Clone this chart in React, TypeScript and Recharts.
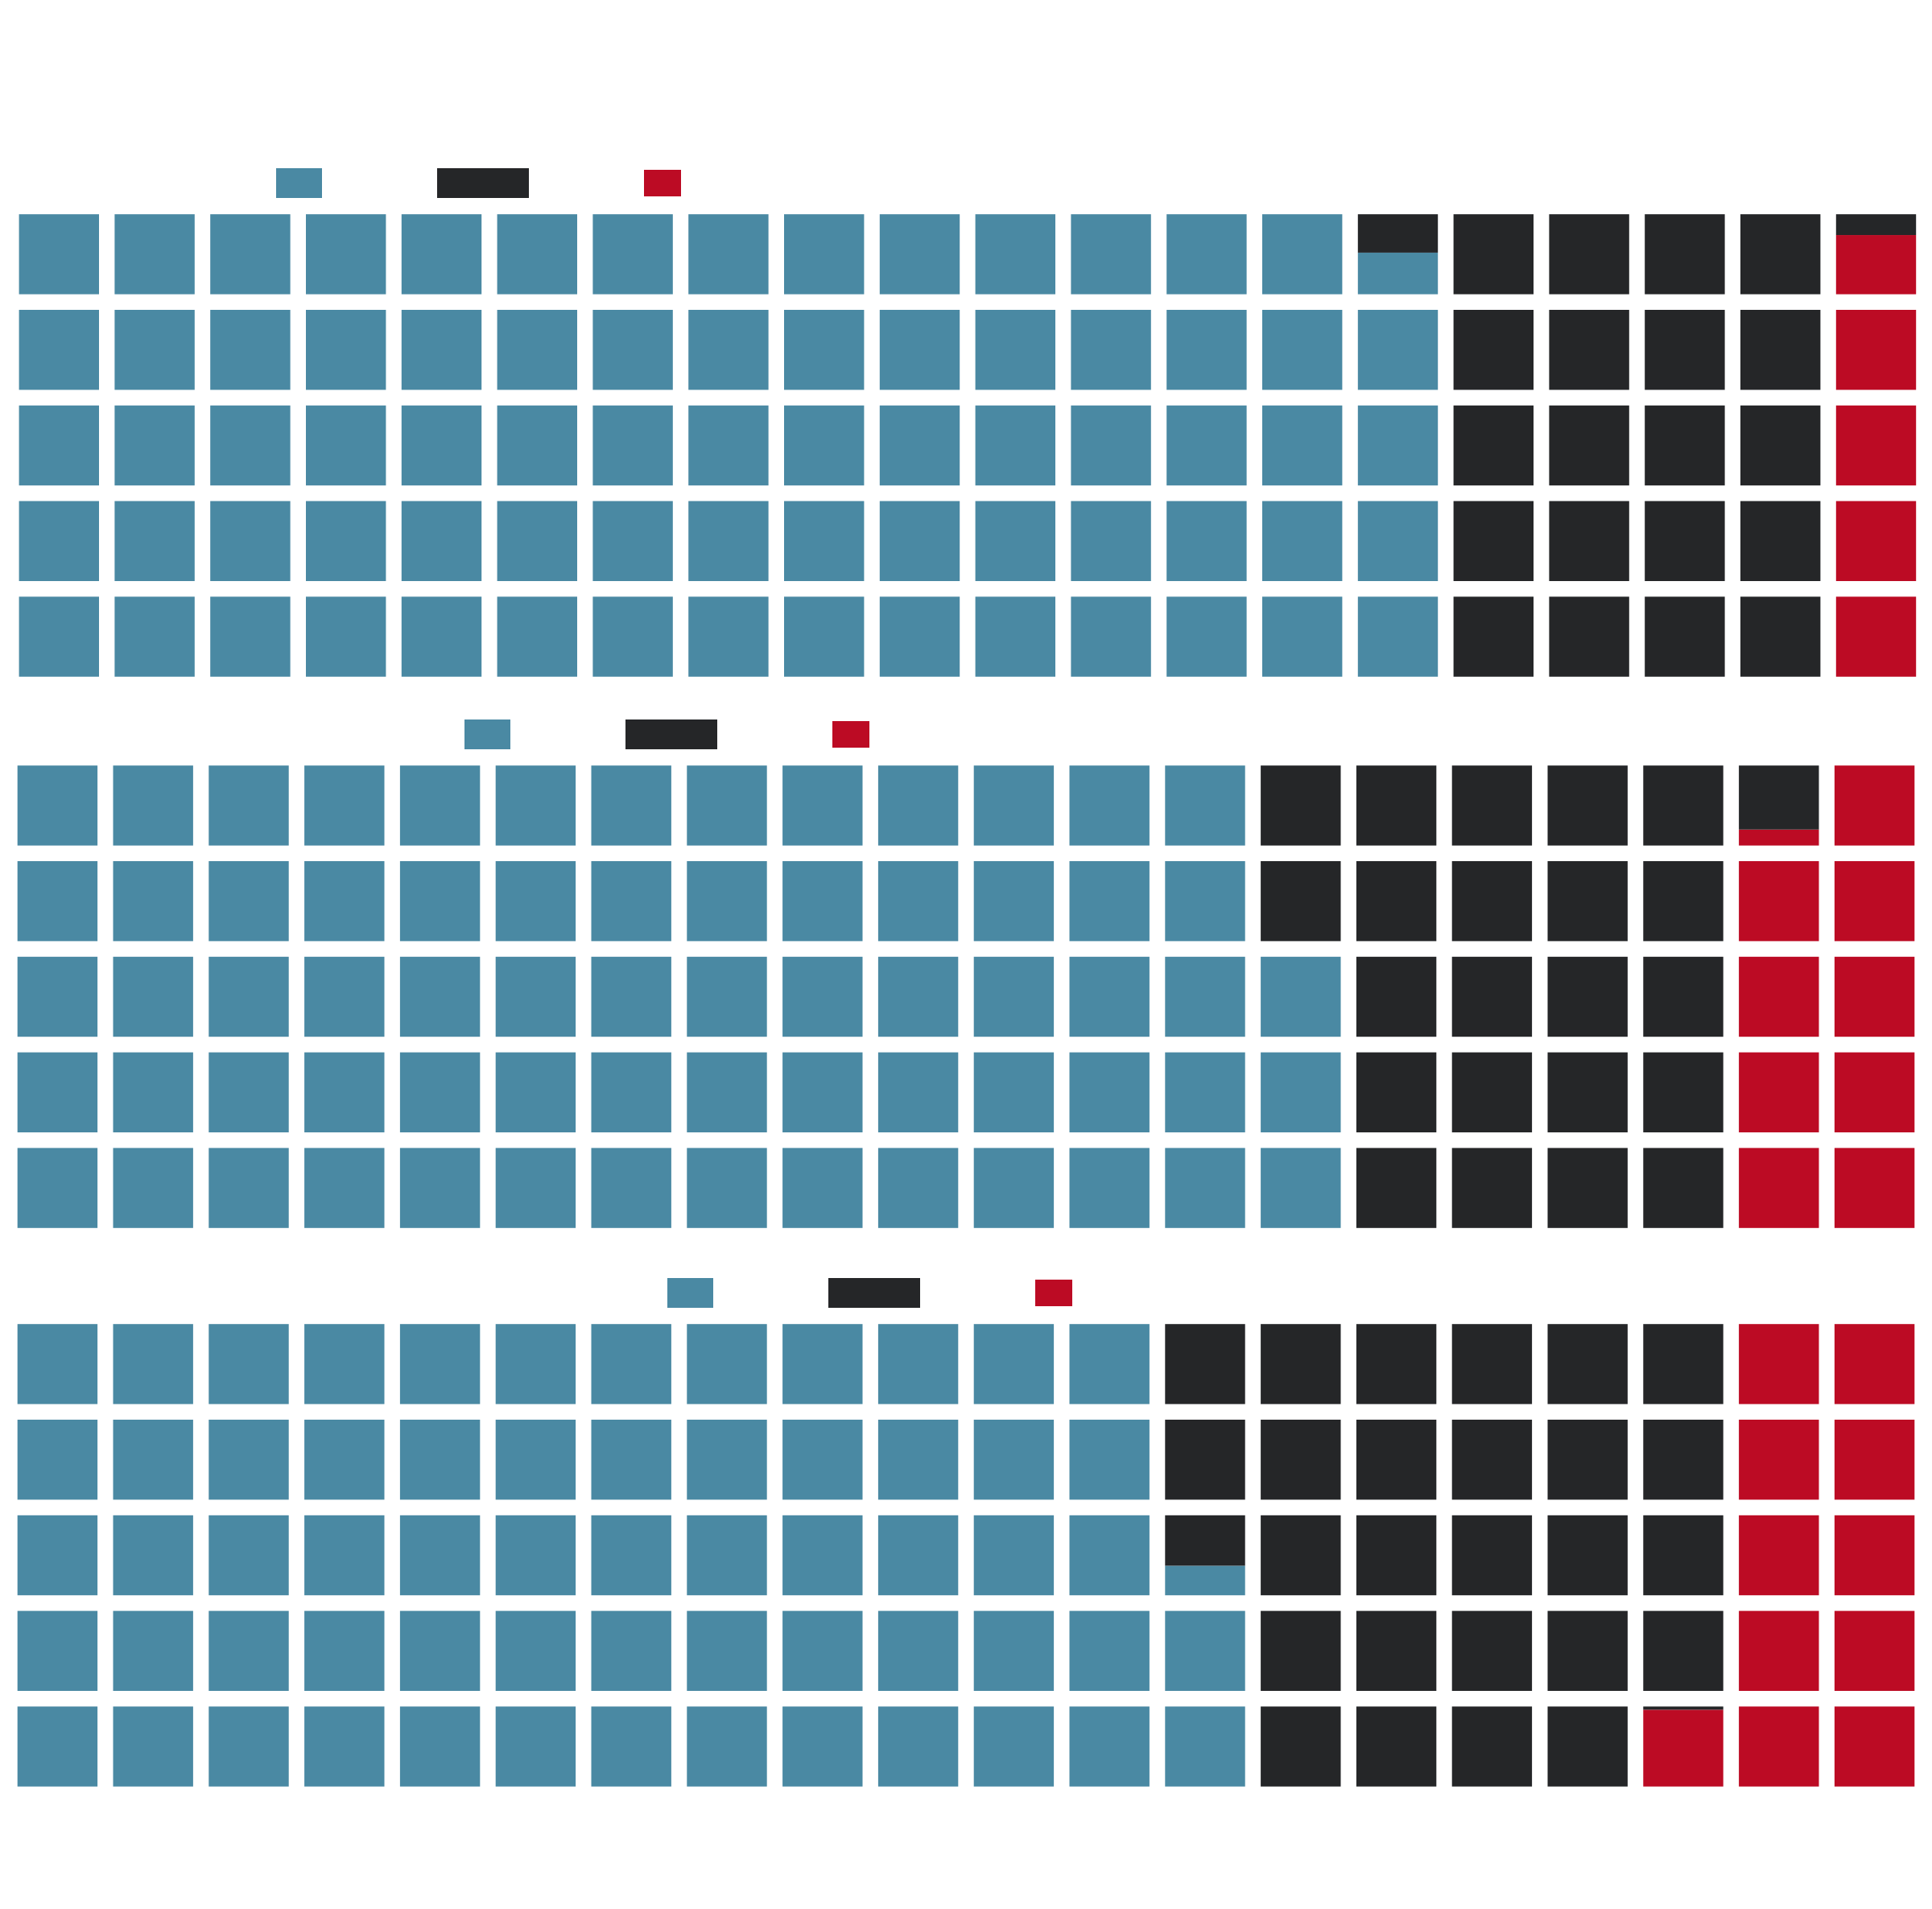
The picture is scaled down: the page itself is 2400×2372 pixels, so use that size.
import { BarChart, Bar, XAxis, YAxis, Legend } from 'recharts';

// share of each group per panel, in percent (one cell = 1%)
const PANELS = ['panel1', 'panel2', 'panel3'];
const BLUE_SHARE = [74.52, 68.0, 62.37];
const BLACK_SHARE = [20.74, 22.8, 26.67];
const RED_SHARE = [4.74, 9.2, 10.96];

const COLUMNS = 20;
const ROWS = 5;

type SeriesKey = 'blue' | 'black' | 'red';

const COLORS: Record<SeriesKey, string> = {
  blue: '#4a89a3',
  black: '#252628',
  red: '#bc0b24',
};

// bottom-to-top order inside a column
const STACK_ORDER: SeriesKey[] = ['blue', 'red', 'black'];
// left-to-right order in the legend
const LEGEND_ORDER: SeriesKey[] = ['blue', 'black', 'red'];

const SWATCH: Record<SeriesKey, { w: number; h: number }> = {
  blue: { w: 57, h: 37 },
  black: { w: 114, h: 37 },
  red: { w: 46, h: 33 },
};

const PITCH = 118.8;
const CELL = 99.4;
const GAP_RATIO = (PITCH - CELL) / PITCH;
const LEGEND_H = 47.5;

const LAYOUT = [
  { top: 208.8, left: 13.6, legendLeft: 342.5 },
  { top: 893.6, left: 11.7, legendLeft: 576.5 },
  { top: 1588.3, left: 11.7, legendLeft: 828.5 },
];

interface ColumnRow {
  col: number;
  blue: number;
  black: number;
  red: number;
}

const clamp = (v: number) => Math.max(0, Math.min(ROWS, v));

// blue fills columns from the left, red takes what is left after blue + black
function buildColumns(blue: number, black: number, red: number): ColumnRow[] {
  const rows: ColumnRow[] = [];
  for (let c = 0; c < COLUMNS; c++) {
    const b = clamp(blue - c * ROWS);
    const k = clamp(blue + black - c * ROWS) - b;
    const r = clamp(blue + black + red - c * ROWS) - b - k;
    rows.push({ col: c, blue: b, black: k, red: r });
  }
  return rows;
}

function makeShape(key: SeriesKey) {
  return (props: any) => {
    const { x, y, width, height, payload } = props;
    const idx = STACK_ORDER.indexOf(key);
    let v0 = 0;
    for (let i = 0; i < idx; i++) v0 += payload[STACK_ORDER[i]];
    const v1 = v0 + payload[key];
    if (!(v1 - v0 > 1e-6) || !(height > 0)) return <g />;
    const unit = height / (v1 - v0);
    const base = y + height + v0 * unit;
    const cellH = unit * (1 - GAP_RATIO);
    const rects = [];
    for (let k = Math.floor(v0); k < Math.ceil(v1); k++) {
      const lo = Math.max(v0, k) - k;
      const hi = Math.min(v1, k + 1) - k;
      if (hi - lo <= 1e-6) continue;
      const cellBottom = base - k * unit - (unit * GAP_RATIO) / 2;
      const top = cellBottom - hi * cellH;
      const bottom = cellBottom - lo * cellH;
      rects.push(
        <rect key={k} x={x} y={top} width={width} height={bottom - top} fill={COLORS[key]} />
      );
    }
    return <g>{rects}</g>;
  };
}

function LegendSwatches() {
  return (
    <div style={{ height: LEGEND_H, display: 'flex', alignItems: 'flex-start' }}>
      <div style={{ display: 'flex', alignItems: 'center', gap: 143, height: 37 }}>
        {LEGEND_ORDER.map((k) => (
          <div
            key={k}
            style={{ width: SWATCH[k].w, height: SWATCH[k].h, background: COLORS[k] }}
          />
        ))}
      </div>
    </div>
  );
}

function Waffle({ index }: { index: number }) {
  const data = buildColumns(BLUE_SHARE[index], BLACK_SHARE[index], RED_SHARE[index]);
  const lay = LAYOUT[index];
  const plotW = COLUMNS * PITCH;
  return (
    <div style={{ position: 'absolute', left: 0, top: lay.top }}>
      <BarChart
        width={2400}
        height={LEGEND_H + ROWS * PITCH}
        data={data}
        margin={{ top: 0, right: 2400 - lay.left - plotW, bottom: 0, left: lay.left }}
      >
        <XAxis dataKey="col" type="category" hide />
        <YAxis type="number" domain={[0, ROWS]} allowDataOverflow hide />
        <Legend
          verticalAlign="top"
          align="left"
          content={<LegendSwatches />}
          wrapperStyle={{ left: lay.legendLeft, top: 0, width: 'auto' }}
        />
        {STACK_ORDER.map((k) => (
          <Bar
            key={k}
            dataKey={k}
            stackId="waffle"
            barSize={CELL}
            fill={COLORS[k]}
            shape={makeShape(k)}
            isAnimationActive={false}
          />
        ))}
      </BarChart>
    </div>
  );
}

export default function App() {
  return (
    <div
      style={{
        position: 'absolute',
        left: 0,
        top: 0,
        width: 2400,
        height: 2372,
        background: '#ffffff',
      }}
    >
      {PANELS.map((p, i) => (
        <Waffle key={p} index={i} />
      ))}
    </div>
  );
}
